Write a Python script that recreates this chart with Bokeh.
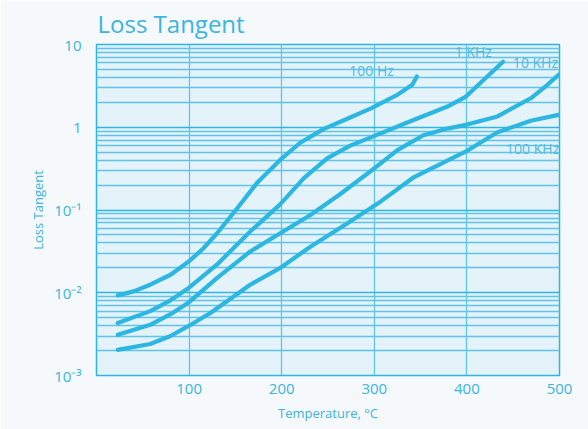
from bokeh.plotting import figure
from bokeh.models import Range1d, FixedTicker, Title
from bokeh.core.properties import value
from bokeh.embed import file_html
from bokeh.resources import INLINE

# ---- data ----
temp_100hz = [23, 40, 58, 80, 100, 115, 130, 152, 173, 198, 220, 245, 274, 297, 325, 341, 346]
tan_100hz = [0.0093, 0.0104, 0.0125, 0.0165, 0.024, 0.034, 0.052, 0.105, 0.21, 0.40, 0.65,
             0.95, 1.31, 1.70, 2.47, 3.26, 4.1]

temp_1khz = [23, 58, 80, 100, 130, 166, 198, 224, 249, 274, 297, 343, 379, 399, 422, 439]
tan_1khz = [0.0043, 0.006, 0.0081, 0.0115, 0.0218, 0.055, 0.116, 0.243, 0.42, 0.6, 0.76,
            1.23, 1.78, 2.35, 4.1, 6.2]

temp_10khz = [23, 58, 80, 100, 130, 166, 198, 231, 263, 297, 325, 353, 380, 399, 433, 469, 487, 499]
tan_10khz = [0.0031, 0.0041, 0.0055, 0.0077, 0.015, 0.0315, 0.052, 0.087, 0.155, 0.30,
             0.53, 0.80, 0.97, 1.07, 1.35, 2.24, 3.26, 4.3]

temp_100khz = [23, 58, 80, 100, 123, 166, 198, 231, 274, 307, 343, 399, 433, 469, 499]
tan_100khz = [0.00204, 0.0024, 0.003, 0.0040, 0.0057, 0.0125, 0.0198, 0.036, 0.0726, 0.127,
              0.25, 0.51, 0.87, 1.2, 1.41]

series_names = ["100 Hz", "1 KHz", "10 KHz", "100 KHz"]
label_x = [297, 407, 474, 471]
label_y = [4.85, 8.2, 6.0, 0.55]

x_ticks = [100, 200, 300, 400, 500]
y_ticks = [0.001, 0.01, 0.1, 1, 10]
y_tick_labels = ["10⁻³", "10⁻²", "10⁻¹", "1", "10"]

# ---- styling ----
CYAN = "#2cb6e2"
GRID = "#5fc4e8"
TXT = "#3bb4e0"
FONT = "Open Sans"

p = figure(
    width=588, height=429,
    frame_width=463, frame_height=331,
    x_range=Range1d(0, 500), y_range=Range1d(0.001, 10),
    y_axis_type="log",
    output_backend="svg", toolbar_location=None,
    min_border_left=96, min_border_right=29, min_border_bottom=55, min_border_top=10,
)
p.title = None
t = Title(text="Loss Tangent", align="left", text_font=FONT, text_font_size="24px",
          text_font_style="normal", text_color=TXT, offset=1, standoff=9)
p.add_layout(t, "above")

p.background_fill_color = "#e4f2fa"
p.border_fill_color = "#f5f9fc"
p.outline_line_color = CYAN
p.outline_line_width = 1.5

# ticks / grid
minor = []
for d in [0.001, 0.01, 0.1, 1]:
    for k in range(2, 10):
        minor.append(k * d)
p.yaxis.ticker = FixedTicker(ticks=y_ticks, minor_ticks=minor)
p.xaxis.ticker = FixedTicker(ticks=x_ticks)
p.yaxis.major_label_overrides = {v: s for v, s in zip(y_ticks, y_tick_labels)}

for ax in (p.xaxis, p.yaxis):
    ax.axis_line_color = None
    ax.major_tick_line_color = None
    ax.minor_tick_line_color = None
    ax.major_label_text_font = FONT
    ax.major_label_text_font_size = "15px"
    ax.major_label_text_color = TXT
    ax.axis_label_text_font = FONT
    ax.axis_label_text_font_size = "13px"
    ax.axis_label_text_font_style = "normal"
    ax.axis_label_text_color = TXT

p.xaxis.axis_label = "Temperature, °C"
p.yaxis.axis_label = "Loss Tangent"
p.xaxis.major_label_standoff = 2
p.yaxis.major_label_standoff = 9
p.xaxis.axis_label_standoff = 7
p.yaxis.axis_label_standoff = 4

p.xgrid.grid_line_color = GRID
p.xgrid.grid_line_width = 1.3
p.ygrid.grid_line_color = CYAN
p.ygrid.grid_line_width = 1.3
p.ygrid.minor_grid_line_color = GRID
p.ygrid.minor_grid_line_width = 1.3

for xs, ys in [(temp_100hz, tan_100hz), (temp_1khz, tan_1khz),
               (temp_10khz, tan_10khz), (temp_100khz, tan_100khz)]:
    p.line(xs, ys, line_color=CYAN, line_width=4.2, line_cap="round", line_join="round")

p.text(x=label_x, y=label_y, text=series_names, text_font=value(FONT),
       text_font_size="14px", text_color="#4dbbe3", text_align="center",
       text_baseline="middle")

open("out.html", "w").write(file_html(p, INLINE))
